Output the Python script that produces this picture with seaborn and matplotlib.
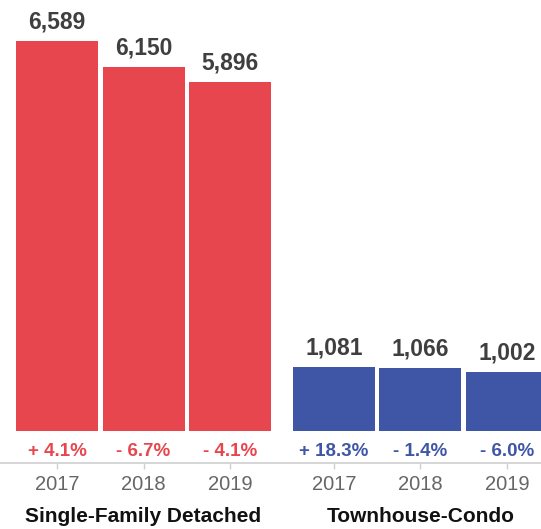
import matplotlib
matplotlib.use("Agg")
import matplotlib.pyplot as plt
import seaborn as sns
import pandas as pd

# Closed sales by property type, three years each
groups = ["Single-Family Detached", "Townhouse-Condo"]
years = ["2017", "2018", "2019"]
single_family = [6589, 6150, 5896]
townhouse_condo = [1081, 1066, 1002]
single_family_pct = [4.1, -6.7, -4.1]
townhouse_condo_pct = [18.3, -1.4, -6.0]

RED = "#E8464E"
BLUE = "#3F56A7"

# bar positions: three bars per group with a wider gap between groups
positions = [0, 1, 2, 3.2, 4.2, 5.2]

df = pd.DataFrame({
    "pos": positions,
    "value": single_family + townhouse_condo,
    "pct": single_family_pct + townhouse_condo_pct,
    "group": [groups[0]] * 3 + [groups[1]] * 3,
    "year": years * 2,
})

sns.set_theme(style="white")
plt.rcParams["font.family"] = ["Liberation Sans", "DejaVu Sans"]

fig = plt.figure(figsize=(5.41, 5.29), dpi=100)
axis_bottom = (529 - 462.7) / 529
ax = fig.add_axes([0, axis_bottom, 1, 1 - axis_bottom])

sns.barplot(
    data=df, x="pos", y="value", hue="group",
    palette={groups[0]: RED, groups[1]: BLUE},
    native_scale=True, dodge=False, width=0.948, saturation=1,
    legend=False, ax=ax, linewidth=0,
)

px_per_unit = 390.3 / 6589
ax.set_ylim(-(462.7 - 431) / px_per_unit, 431 / px_per_unit)
ax.set_xlim(-0.659, 5.595)

for sp in ["top", "left", "right"]:
    ax.spines[sp].set_visible(False)
ax.spines["bottom"].set_color("#d3d3d3")
ax.spines["bottom"].set_linewidth(1.3)

ax.set_xticks(positions)
ax.set_xticklabels(df["year"], fontsize=14.5, color="#666666")
ax.tick_params(axis="x", direction="out", length=4.5, width=1, color="#cfcfcf", pad=4.5, bottom=True)
ax.set_yticks([])
ax.set_xlabel("")
ax.set_ylabel("")

px = 0.72  # points per pixel at 100 dpi

for _, row in df.iterrows():
    color = RED if row["group"] == groups[0] else BLUE
    ax.annotate(f"{row['value']:,}", xy=(row["pos"], row["value"]),
                xytext=(0, 12 * px), textcoords="offset points",
                ha="center", va="baseline", fontsize=16.5,
                fontweight="bold", color="#3f3f3f")
    sign = "+" if row["pct"] > 0 else "-"
    ax.annotate(f"{sign} {abs(row['pct']):.1f}%", xy=(row["pos"], 0),
                xytext=(0, -25 * px), textcoords="offset points",
                ha="center", va="baseline", fontsize=13.5,
                fontweight="bold", color=color)

# group captions under the middle bar of each group
for name, center in zip(groups, [positions[1], positions[4]]):
    ax.annotate(name, xy=(center, 0), xycoords=("data", "axes fraction"),
                xytext=(0, -(522 - 462.7) * px), textcoords="offset points",
                ha="center", va="baseline", fontsize=15,
                fontweight="bold", color="#111111", annotation_clip=False)

fig.savefig("out.png", dpi=100)
